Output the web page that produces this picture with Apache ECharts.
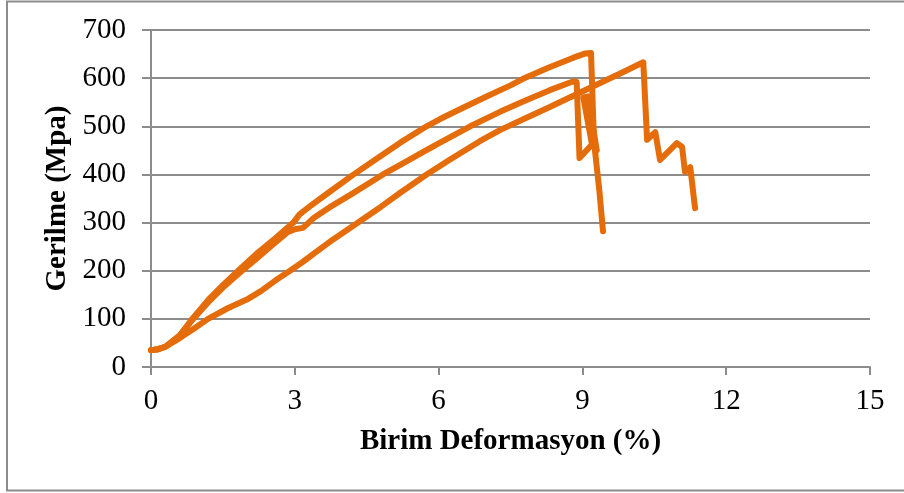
<!DOCTYPE html>
<html>
<head>
<meta charset="utf-8">
<script src="https://cdn.jsdelivr.net/npm/echarts@6/dist/echarts.min.js"></script>
<style>html,body{margin:0;padding:0;background:#fff}#c{width:904px;height:493px}</style>
</head>
<body>
<div id="c"></div>
<script>
// Curve A (highest peak ~652)
const curveA = [[0,35],[0.15,37],[0.3,42],[0.6,65],[0.86,100],[1.2,140],[1.5,170],[1.87,205],[2.2,235],[2.6,268],[2.97,300],[3.1,317],[3.32,334],[3.7,362],[4.2,398],[4.7,432],[5.2,466],[5.75,500],[6.03,515],[6.5,538],[7.0,562],[7.5,585],[7.75,598],[8.3,622],[8.8,642],[9.05,651],[9.18,652],[9.24,470],[9.35,370],[9.43,282]];
// Curve B (peak ~594)
const curveB = [[0,35],[0.15,37],[0.3,42],[0.6,66],[0.88,100],[1.2,135],[1.5,165],[1.9,200],[2.2,225],[2.55,255],[2.85,280],[3.0,286],[3.17,289],[3.4,310],[3.73,332],[4.15,357],[4.84,400],[5.2,420],[5.7,448],[6.03,466],[6.66,500],[7.28,530],[7.8,553],[8.32,575],[8.8,593],[8.88,592],[8.94,434],[9.2,462],[9.02,560],[9.12,562],[9.3,450]];
// Curve C (peak ~633 near 10.3)
const curveC = [[0,35],[0.15,37],[0.3,42],[0.6,60],[0.9,80],[1.19,100],[1.6,122],[2.0,140],[2.3,158],[2.6,180],[2.9,200],[3.15,217],[3.46,240],[3.8,265],[4.32,300],[4.8,333],[5.2,362],[5.75,400],[6.24,431],[6.86,469],[7.28,492],[7.8,516],[8.32,540],[8.8,563],[9.37,590],[9.8,610],[10.27,633],[10.35,472],[10.52,488],[10.62,430],[10.97,465],[11.08,457],[11.14,405],[11.25,415],[11.35,330]];

const xTitle = 'Birim Deformasyon (%)';
const yTitle = 'Gerilme (Mpa)';

const chart = echarts.init(document.getElementById('c'));
const font = 'Liberation Serif';
const gray = '#8c8c8c';
const orange = '#E46C0A';
const mk = (d) => ({type:'line', data:d, showSymbol:false, symbol:'none', lineStyle:{color:orange, width:6, cap:'round', join:'round'}, itemStyle:{color:orange}, animation:false});
chart.setOption({
  animation:false,
  graphic:[{type:'rect', shape:{x:7,y:1.5,width:905,height:489}, style:{fill:'none', stroke:gray, lineWidth:2}, z:-1}],
  grid:{left:151, right:34, top:30, bottom:126},
  xAxis:{type:'value', min:0, max:15, interval:3,
    name:xTitle, nameLocation:'middle', nameGap:60,
    nameTextStyle:{fontFamily:font, fontWeight:'bold', fontSize:29, color:'#000'},
    axisLine:{show:true, lineStyle:{color:gray, width:2}},
    axisTick:{show:true, length:8, lineStyle:{color:gray, width:2}},
    axisLabel:{fontFamily:font, fontSize:29, color:'#000', margin:20},
    splitLine:{show:false}},
  yAxis:{type:'value', min:0, max:700, interval:100,
    name:yTitle, nameLocation:'middle', nameGap:79, nameRotate:90,
    nameTextStyle:{fontFamily:font, fontWeight:'bold', fontSize:29, color:'#000'},
    axisLine:{show:true, lineStyle:{color:gray, width:2}},
    axisTick:{show:true, length:9, lineStyle:{color:gray, width:2}},
    axisLabel:{fontFamily:font, fontSize:29, color:'#000', margin:25},
    splitLine:{show:true, lineStyle:{color:gray, width:2}}},
  series:[mk(curveC), mk(curveB), mk(curveA)]
});
</script>
</body>
</html>
